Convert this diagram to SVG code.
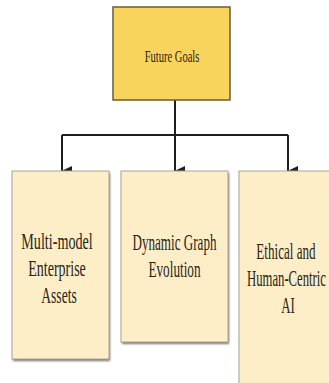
<svg xmlns="http://www.w3.org/2000/svg" width="329" height="383" viewBox="0 0 329 383">
  <defs>
    <marker id="arrow" markerWidth="10" markerHeight="11" refX="5" refY="10" orient="auto-start-reverse" markerUnits="userSpaceOnUse" viewBox="0 0 10 11">
      <path d="M0,0 L10,0 L5,10.5 Z" fill="#1e1e1e"/>
    </marker>
    <filter id="soft" x="-10%" y="-10%" width="130%" height="130%">
      <feGaussianBlur stdDeviation="0.8"/>
    </filter>
  </defs>
  <style>
    .root { fill: #F9D45C; stroke: #6a5c3c; stroke-width: 1.5; }
    .leaf { fill: #FDEEC8; stroke: #a8a498; stroke-width: 1; }
    .shadow { fill: #77736a; filter: url(#soft); }
    .lbl { font-family: "Liberation Serif", "Times New Roman", serif; fill: #2a2418; text-anchor: middle; }
    .big { font-size: 23px; }
    .small { font-size: 17px; }
    .wire { fill: none; stroke: #1e1e1e; stroke-width: 2; }
  </style>
  <rect width="329" height="383" fill="#ffffff"/>

  <g id="connectors">
    <path class="wire" d="M175,100 V135"/>
    <path class="wire" d="M62,135 H288"/>
    <path class="wire" d="M62,135 V171" marker-end="url(#arrow)"/>
    <path class="wire" d="M175,135 V171" marker-end="url(#arrow)"/>
    <path class="wire" d="M288,135 V171" marker-end="url(#arrow)"/>
  </g>

  <!-- labels use a condensed serif: each line is squeezed horizontally -->
  <g id="future-goals">
    <rect class="root" x="113" y="7" width="117" height="93"/>
    <text class="lbl small" transform="translate(172,62) scale(0.62,1)">Future Goals</text>
  </g>

  <g id="multi-model">
    <rect class="shadow" x="13" y="173" width="97" height="188"/>
    <rect class="leaf" x="12" y="171" width="97" height="188"/>
    <text class="lbl big" transform="translate(57,249) scale(0.615,1)">Multi-model</text>
    <text class="lbl big" transform="translate(57,276) scale(0.61,1)">Enterprise</text>
    <text class="lbl big" transform="translate(59,303) scale(0.59,1)">Assets</text>
  </g>

  <g id="dynamic-graph">
    <rect class="shadow" x="122" y="173" width="107" height="171"/>
    <rect class="leaf" x="121" y="171" width="107" height="171"/>
    <text class="lbl big" transform="translate(174.5,250) scale(0.57,1)">Dynamic Graph</text>
    <text class="lbl big" transform="translate(174.5,277) scale(0.575,1)">Evolution</text>
  </g>

  <g id="ethical-ai">
    <!-- this box runs off the right and bottom edges of the canvas -->
    <rect class="shadow" x="240" y="173" width="90" height="211"/>
    <rect class="leaf" x="239" y="171" width="91" height="213"/>
    <text class="lbl big" transform="translate(286,259) scale(0.57,1)">Ethical and</text>
    <text class="lbl big" transform="translate(286.5,286) scale(0.552,1)">Human-Centric</text>
    <text class="lbl big" transform="translate(288,313) scale(0.56,1)">AI</text>
  </g>
</svg>
